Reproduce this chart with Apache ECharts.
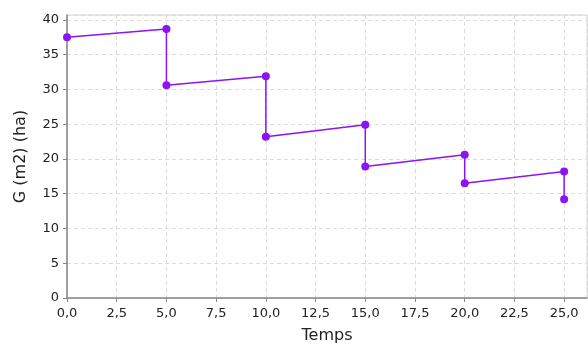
<!DOCTYPE html>
<html>
<head>
<meta charset="utf-8">
<script src="https://cdn.jsdelivr.net/npm/echarts@6/dist/echarts.min.js"></script>
<style>
  html, body { margin: 0; padding: 0; background: #fff; }
  #main { width: 588px; height: 349px; }
</style>
</head>
<body>
<div id="main"></div>
<script>
// temps / G values (vertical drops at each cut)
const temps = [0, 5, 5, 10, 10, 15, 15, 20, 20, 25, 25];
const gValues = [37.5, 38.7, 30.6, 31.9, 23.2, 24.9, 18.9, 20.6, 16.5, 18.2, 14.2];
const xName = "Temps";
const yName = "G (m2) (ha)";

const chart = echarts.init(document.getElementById("main"));

const gridLine = { show: true, lineStyle: { color: "#dcdcdc", type: [4, 3], width: 1 } };
const axisLine = { show: true, lineStyle: { color: "#888", width: 1.5 } };

const option = {
  animation: false,
  grid: {
    left: 67,
    right: 1,
    top: 15,
    bottom: 47,
    show: true,
    borderColor: "#d0d0d0",
    borderWidth: 1,
  },
  xAxis: {
    type: "value",
    min: 0,
    max: 26.15,
    interval: 2.5,
    name: xName,
    nameLocation: "middle",
    nameGap: 30,
    nameTextStyle: { fontFamily: "DejaVu Sans", fontSize: 16, color: "#222" },
    axisLine: axisLine,
    axisTick: { show: true, length: 4, lineStyle: { color: "#888" } },
    axisLabel: {
      fontFamily: "DejaVu Sans",
      fontSize: 13,
      color: "#222",
      margin: 9,
      showMaxLabel: false,
      formatter: (v) => v.toFixed(1).replace(".", ","),
    },
    splitLine: gridLine,
  },
  yAxis: {
    type: "value",
    min: 0,
    max: 40.7,
    interval: 5,
    name: yName,
    nameLocation: "middle",
    nameGap: 38,
    nameTextStyle: { fontFamily: "DejaVu Sans", fontSize: 16, color: "#222" },
    axisLine: axisLine,
    axisTick: { show: true, length: 4, lineStyle: { color: "#888" } },
    axisLabel: {
      fontFamily: "DejaVu Sans",
      fontSize: 13,
      color: "#222",
      margin: 8,
      showMaxLabel: false,
    },
    splitLine: gridLine,
  },
  series: [
    {
      type: "line",
      data: temps.map((t, i) => [t, gValues[i]]),
      symbol: "circle",
      symbolSize: 8,
      lineStyle: { color: "#8a14f5", width: 1.5 },
      itemStyle: { color: "#8a14f5" },
    },
  ],
};
chart.setOption(option);
</script>
</body>
</html>
